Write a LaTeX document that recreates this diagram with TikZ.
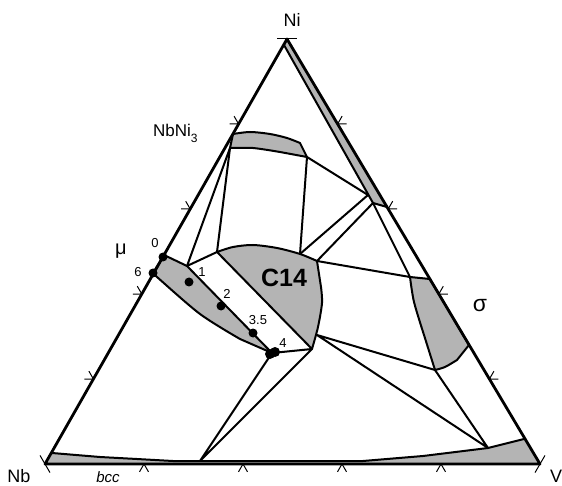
\documentclass[tikz,border=0pt]{standalone}
\usepackage{fontspec}
\setmainfont{Liberation Sans}
\definecolor{PhaseGray}{HTML}{B4B4B4}
\usetikzlibrary{calc}

\begin{document}
\begin{tikzpicture}[x=1pt,y=-1pt,
    edge/.style={line width=2.8pt,line join=round},
    bound/.style={line width=2pt,line join=round},
    tickmark/.style={line width=1pt},
    cornerlbl/.style={font=\fontsize{18}{18}\selectfont},
    numlbl/.style={font=\fontsize{13}{13}\selectfont}]
  \useasboundingbox (0,0) rectangle (562,486);
  % corners
  \coordinate (nb) at (45,464);
  \coordinate (v) at (540,464);
  \coordinate (ni) at (287,39);
  % phase points
  \coordinate (n3b) at (230,148);
  \coordinate (n3c) at (307,157);
  \coordinate (mua) at (187,266);
  \coordinate (mutip) at (272,353);
  \coordinate (c14a) at (217,252);
  \coordinate (c14b) at (300,254);
  \coordinate (c14c) at (317,261);
  \coordinate (c14d) at (317,335);
  \coordinate (c14tip) at (312,349);
  \coordinate (fcca) at (284,45);
  \coordinate (fccj) at (368,195);
  \coordinate (fcce) at (373,203);
  \coordinate (sga) at (410,277);
  \coordinate (sgd) at (435,370);
  \coordinate (bccb) at (200,461);
  \coordinate (bccj) at (488,448);

  % gray single-phase fields
  \fill[PhaseGray] (nb) -- (52,453) -- (100,457) -- (137,459) -- (173,461) -- (bccb)
    -- (363,461) -- (423,456) -- (bccj) -- (524,439) -- (v) -- cycle;
  \filldraw[fill=PhaseGray,bound] (ni) -- (fcca) -- (fcce) -- (387,207);
  \filldraw[fill=PhaseGray,bound] plot[smooth] coordinates {(233,134) (250,132) (270,134) (287,138) (300,143)}
    -- (n3c) -- plot[smooth] coordinates {(280,152) (253,148) (n3b)} -- cycle;
  \filldraw[fill=PhaseGray,bound] plot[smooth] coordinates {(c14a) (233,247) (253,245) (277,248) (c14b) (c14c)}
    -- plot[smooth] coordinates {(321,287) (322,303) (318,327) (c14tip)} -- cycle;
  \filldraw[fill=PhaseGray,bound] (sga) -- (430,279) -- (469,345)
    -- plot[smooth] coordinates {(457,360) (445,367) (sgd)}
    -- plot[smooth] coordinates {(424,335) (414,302) (sga)};
  \filldraw[fill=PhaseGray,bound] (164,255) -- (mua) -- (mutip)
    -- plot[smooth] coordinates {(240,339) (200,314) (157,277) (153,273)} -- cycle;

  % bcc boundary
  \draw[bound] (52,453) -- (100,457) -- (137,459) -- (173,461) -- (bccb)
    -- (363,461) -- (423,456) -- (bccj) -- (524,439);

  % tie lines and phase boundaries
  \draw[bound] (n3b) -- (c14a);
  \draw[bound] (n3b) -- (mua) -- (c14a);
  \draw[bound] (n3c) -- (c14b);
  \draw[bound] (n3c) -- (fccj) -- (c14b);
  \draw[bound] (fcce) -- (c14c) -- (sga) -- (fcce);
  \draw[bound] (c14d) -- (sgd) -- (bccj) -- (c14d);
  \draw[bound] (mutip) -- (c14tip) -- (bccb) -- (mutip);

  % triangle and ticks
  \draw[edge] (nb) -- (v) -- (ni) -- cycle;
  \foreach \t in {0.2,0.4,0.6,0.8} {
    \draw[tickmark] ($(ni)!\t!(nb)$) -- ++(-9,0) ($(ni)!\t!(nb)$) -- ++(-4.5,-7.8);
    \draw[tickmark] ($(ni)!\t!(v)$) -- ++(9,0) ($(ni)!\t!(v)$) -- ++(4.5,-7.8);
    \draw[tickmark] ($(nb)!\t!(v)$) -- ++(-4.5,7.8) ($(nb)!\t!(v)$) -- ++(4.5,7.8);
  }
  \draw[tickmark] ($(ni)+(-10,0)$) -- ($(ni)+(10,0)$);
  \draw[tickmark] ($(nb)+(-5,-8.6)$) -- ($(nb)+(5,8.6)$);
  \draw[tickmark] ($(v)+(5,-8.6)$) -- ($(v)+(-5,8.6)$);

  % composition points
  \fill (163,257) circle (4.5pt);
  \fill (153,273) circle (4.5pt);
  \fill (189,282) circle (4.5pt);
  \fill (221,306) circle (4.5pt);
  \fill (253,333) circle (4.5pt);
  \fill (270,354) circle (5pt);
  \fill (275,352) circle (5pt);

  % labels
  \node[cornerlbl] (lni) at (292,20) {Ni};
  \node[cornerlbl] (lnb) at (19,476) {Nb};
  \node[cornerlbl] (lv) at (556,476) {V};
  \node[font=\fontsize{17}{17}\selectfont,anchor=base west,inner sep=0pt] (lnbni) at (153,137)
    {NbNi\raisebox{-0.3em}{\fontsize{12}{12}\selectfont 3}};
  \node[font=\fontsize{20}{20}\selectfont] (lmu) at (121,251) {μ};
  \node[font=\fontsize{23}{23}\selectfont] (lsigma) at (480,306) {σ};
  \node[font=\fontsize{25}{25}\selectfont\bfseries] (lc) at (284,278) {C14};
  \node[font=\fontsize{15}{15}\selectfont\itshape,anchor=base,inner sep=0pt] (lbcc) at (108,482) {bcc};
  \node[numlbl] (l0) at (155,243) {0};
  \node[numlbl] (l6) at (138,272) {6};
  \node[numlbl] (l1) at (202,272) {1};
  \node[numlbl] (l2) at (227,294) {2};
  \node[numlbl] (l35) at (258,320) {3.5};
  \node[numlbl] (l4) at (283,343) {4};
\end{tikzpicture}
\end{document}
